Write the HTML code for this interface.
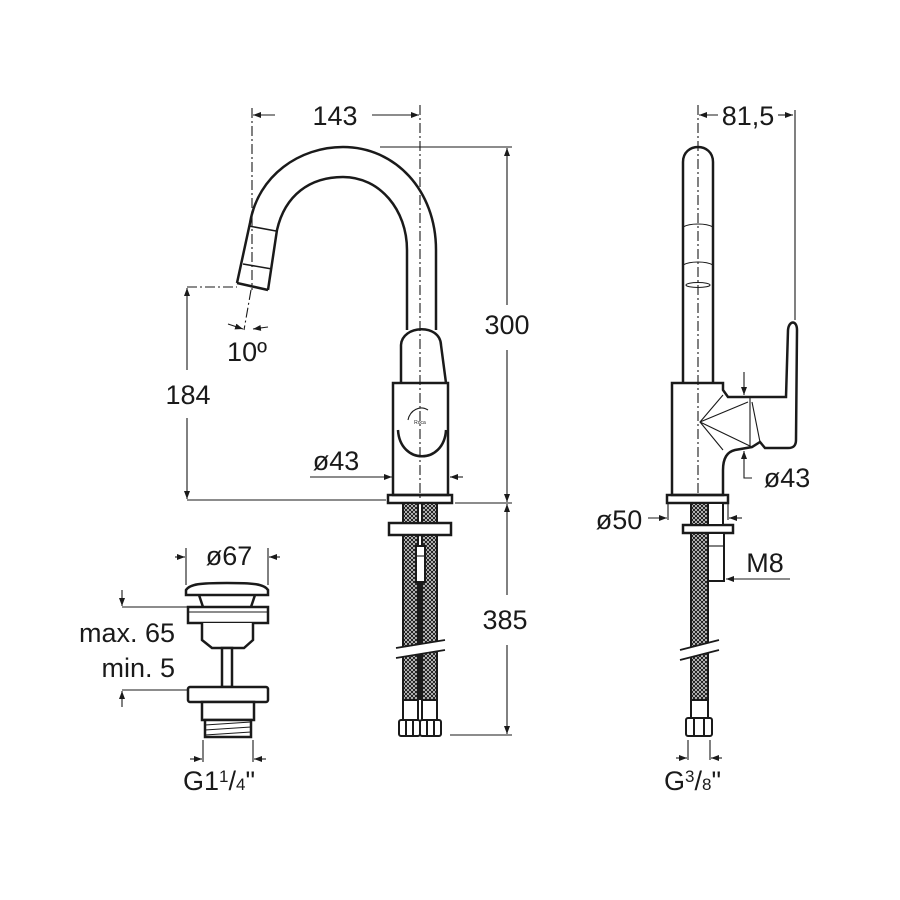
<!DOCTYPE html>
<html><head><meta charset="utf-8"><style>
html,body{margin:0;padding:0;background:#fff;}
svg{display:block;}
text{font-family:"Liberation Sans",Arial,sans-serif;fill:#1a1a1a;}
</style></head><body>
<svg width="900" height="900" viewBox="0 0 900 900" xmlns="http://www.w3.org/2000/svg">
<defs>
<pattern id="mesh" width="4" height="4" patternUnits="userSpaceOnUse">
<rect width="4" height="4" fill="#fff"/>
<path d="M0 0L4 4M4 0L0 4" stroke="#222" stroke-width="1.2"/>
</pattern>
<marker id="ar" markerWidth="8" markerHeight="6" refX="8" refY="3" orient="auto" markerUnits="userSpaceOnUse">
<path d="M0 0L8 3L0 6z" fill="#1a1a1a"/>
</marker>
</defs>
<g fill="none" stroke="#1a1a1a" stroke-width="1.1">
<g stroke-dasharray="10 3 2 3">
<line x1="420" y1="105" x2="420" y2="500"/>
<line x1="252" y1="108" x2="252" y2="290"/>
<line x1="187" y1="287" x2="237" y2="287"/>
<line x1="251" y1="290" x2="244" y2="330"/>
<line x1="698" y1="105" x2="698" y2="495"/>
</g>
<line x1="275" y1="115" x2="253" y2="115" marker-end="url(#ar)"/>
<line x1="372" y1="115" x2="419" y2="115" marker-end="url(#ar)"/>
<line x1="380" y1="147" x2="512" y2="147"/>
<line x1="507" y1="305" x2="507" y2="148" marker-end="url(#ar)"/>
<line x1="507" y1="350" x2="507" y2="502" marker-end="url(#ar)"/>
<line x1="455" y1="503" x2="512" y2="503"/>
<line x1="507" y1="595" x2="507" y2="504" marker-end="url(#ar)"/>
<line x1="507" y1="645" x2="507" y2="734" marker-end="url(#ar)"/>
<line x1="450" y1="735" x2="512" y2="735"/>
<line x1="187" y1="370" x2="187" y2="288" marker-end="url(#ar)"/>
<line x1="187" y1="418" x2="187" y2="499" marker-end="url(#ar)"/>
<line x1="187" y1="500" x2="386" y2="500"/>
<line x1="228" y1="324" x2="243" y2="329" marker-end="url(#ar)"/>
<line x1="268" y1="327" x2="253" y2="329" marker-end="url(#ar)"/>
<line x1="310" y1="477" x2="392" y2="477" marker-end="url(#ar)"/>
<line x1="463" y1="477" x2="450" y2="477" marker-end="url(#ar)"/>

<g stroke-width="2.5">
<path d="M237 283 L250 223 C258 175 300 147 343 147 C395 147 436 190 436 250 L436 330"/>
<path d="M268 290 L277 230 C285 195 310 177 343 177 C380 177 407 210 407 250 L407 330"/>
<path d="M237 283 L268 290"/>
</g>
<path d="M249 226 L276 231 M243 264 L272 269" stroke-width="1.5"/>
<g stroke-width="2.5">
<path d="M401 383 L401 345 C402 325 440 323 441 345 L446 383"/>
<rect x="393" y="383" width="55" height="112"/>
<path d="M398 430 C400 465 444 465 446 430"/>
<rect x="388" y="495" width="64" height="8"/>
<rect x="389" y="523" width="62" height="12"/>
</g>
<path d="M408 420 C410 410 420 405 428 410"/>
<text x="420" y="424" font-size="5" text-anchor="middle" stroke="none">Roca</text>
<rect x="403" y="503" width="15" height="20" fill="url(#mesh)" stroke-width="2"/>
<rect x="422" y="503" width="15" height="20" fill="url(#mesh)" stroke-width="2"/>
<rect x="403" y="535" width="15" height="165" fill="url(#mesh)" stroke-width="2"/>
<rect x="422" y="535" width="15" height="165" fill="url(#mesh)" stroke-width="2"/>
<rect x="416" y="546" width="9" height="36" fill="#fff" stroke-width="2"/>
<line x1="416" y1="556" x2="425" y2="556"/>
<line x1="420" y1="582" x2="420" y2="700" stroke-width="2"/>
<path d="M396 648 L445 640 L445 650 L396 658 Z" fill="#fff" stroke="none"/>
<path d="M396 648 L445 640 M396 658 L445 650" stroke-width="1.8"/>
<g stroke-width="2" fill="#fff">
<rect x="403" y="700" width="15" height="20"/>
<rect x="422" y="700" width="15" height="20"/>
<rect x="399" y="720" width="21" height="16" rx="2"/>
<rect x="420" y="720" width="21" height="16" rx="2"/>
<line x1="406" y1="720" x2="406" y2="736"/><line x1="413" y1="720" x2="413" y2="736"/>
<line x1="427" y1="720" x2="427" y2="736"/><line x1="434" y1="720" x2="434" y2="736"/>
</g>

<line x1="718" y1="115" x2="699" y2="115" marker-end="url(#ar)"/>
<line x1="778" y1="115" x2="793" y2="115" marker-end="url(#ar)"/>
<line x1="795" y1="110" x2="795" y2="320"/>
<g stroke-width="2.5">
<path d="M683 383 L683 162 C683 142 713 142 713 162 L713 383"/>
<path d="M672 383 L723 383 L723 390 L728 397 L786 397 L788 330 C789 320 797 320 797 330 L796 440 C796 446 793 448 788 448 L765 448 L760 442 L752 447 L735 450 C726 452 723 460 723 470 L723 495 L672 495 Z"/>
<rect x="667" y="495" width="61" height="8"/>
<rect x="683" y="525" width="50" height="8"/>
</g>
<path d="M683 227 C690 223 706 223 713 227 M683 265 C690 261 706 261 713 265"/>
<ellipse cx="698" cy="285" rx="12" ry="2.5"/>
<path d="M723 395 L700 422 L723 450 M700 422 L748 402 M700 422 L752 447 M750 397 L750 448 M752 402 L760 442"/>
<line x1="744" y1="372" x2="744" y2="395" marker-end="url(#ar)"/>
<line x1="744" y1="470" x2="744" y2="451" marker-end="url(#ar)"/>
<path d="M744 470 L744 478 L752 478"/>
<line x1="648" y1="518" x2="667" y2="518" marker-end="url(#ar)"/>
<line x1="742" y1="518" x2="729" y2="518" marker-end="url(#ar)"/>
<line x1="668" y1="503" x2="668" y2="520"/>
<line x1="728" y1="503" x2="728" y2="520"/>
<line x1="790" y1="579" x2="726" y2="579" marker-end="url(#ar)"/>
<rect x="691" y="503" width="17" height="22" fill="url(#mesh)" stroke-width="2"/>
<rect x="691" y="533" width="17" height="167" fill="url(#mesh)" stroke-width="2"/>
<rect x="708" y="503" width="15" height="22" fill="#fff" stroke-width="2"/>
<rect x="708" y="533" width="16" height="48" fill="#fff" stroke-width="2"/>
<line x1="708" y1="546" x2="724" y2="546"/>
<path d="M680 650 L719 640 L719 650 L680 660 Z" fill="#fff" stroke="none"/>
<path d="M680 650 L719 640 M680 660 L719 650" stroke-width="1.8"/>
<g stroke-width="2" fill="#fff">
<rect x="691" y="700" width="17" height="18"/>
<rect x="686" y="718" width="26" height="18" rx="2"/>
<line x1="694" y1="718" x2="694" y2="736"/><line x1="704" y1="718" x2="704" y2="736"/>
</g>
<line x1="688" y1="740" x2="688" y2="760"/>
<line x1="710" y1="740" x2="710" y2="760"/>
<line x1="676" y1="758" x2="687" y2="758" marker-end="url(#ar)"/>
<line x1="722" y1="758" x2="711" y2="758" marker-end="url(#ar)"/>

<line x1="186" y1="548" x2="186" y2="585"/>
<line x1="268" y1="548" x2="268" y2="585"/>
<line x1="175" y1="557" x2="185" y2="557" marker-end="url(#ar)"/>
<line x1="280" y1="557" x2="269" y2="557" marker-end="url(#ar)"/>
<line x1="122" y1="590" x2="122" y2="606" marker-end="url(#ar)"/>
<line x1="122" y1="607" x2="190" y2="607"/>
<line x1="122" y1="707" x2="122" y2="691" marker-end="url(#ar)"/>
<line x1="122" y1="690" x2="188" y2="690"/>
<g stroke-width="2.5" fill="#fff">
<path d="M186 595 L186 590 C190 584 200 583 227 583 C254 583 264 584 268 590 L268 595 Z"/>
<path d="M199 595 L203 607 M255 595 L251 607"/>
<rect x="188" y="607" width="80" height="16"/>
<line x1="188" y1="612" x2="268" y2="612" stroke-width="1"/>
<path d="M202 623 L202 640 L212 648 L244 648 L253 640 L253 623"/>
<rect x="222" y="648" width="10" height="39"/>
<rect x="188" y="687" width="80" height="15" rx="2"/>
<rect x="202" y="702" width="52" height="18"/>
<rect x="205" y="720" width="46" height="17"/>
</g>
<path d="M205 725 L251 722 M205 730 L251 727 M205 735 L251 732"/>
<line x1="203" y1="740" x2="203" y2="762"/>
<line x1="253" y1="740" x2="253" y2="762"/>
<line x1="190" y1="759" x2="202" y2="759" marker-end="url(#ar)"/>
<line x1="266" y1="759" x2="254" y2="759" marker-end="url(#ar)"/>
</g>

<g font-size="27">
<text x="335" y="125" text-anchor="middle">143</text>
<text x="507" y="334" text-anchor="middle">300</text>
<text x="505" y="629" text-anchor="middle">385</text>
<text x="188" y="404" text-anchor="middle">184</text>
<text x="247" y="361" text-anchor="middle">10º</text>
<text x="336" y="470" text-anchor="middle">ø43</text>
<text x="748" y="125" text-anchor="middle">81,5</text>
<text x="787" y="487" text-anchor="middle">ø43</text>
<text x="619" y="529" text-anchor="middle">ø50</text>
<text x="765" y="572" text-anchor="middle">M8</text>
<text x="229" y="565" text-anchor="middle">ø67</text>
<text x="175" y="642" text-anchor="end">max. 65</text>
<text x="175" y="677" text-anchor="end">min. 5</text>
<text x="183" y="790">G1<tspan font-size="17" dy="-8">1</tspan><tspan dy="8">/</tspan><tspan font-size="17">4</tspan>"</text>
<text x="664" y="790">G<tspan font-size="17" dy="-8">3</tspan><tspan dy="8">/</tspan><tspan font-size="17">8</tspan>"</text>
</g>
</svg>
</body></html>
